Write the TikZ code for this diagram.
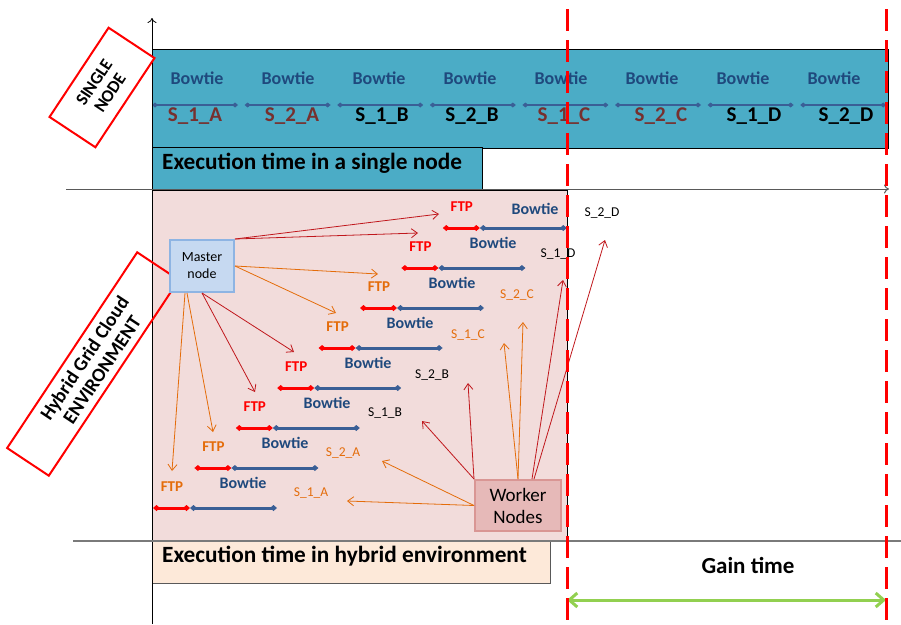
\documentclass[tikz,border=0pt]{standalone}
\usepackage{fontspec}
\setmainfont{Carlito}
\usetikzlibrary{arrows.meta,calc}
\definecolor{aqua}{HTML}{4BACC6}
\definecolor{tlblue}{HTML}{3A5F96}
\definecolor{bowblue}{HTML}{1F497D}
\definecolor{sred}{HTML}{77302E}
\definecolor{pinkbg}{HTML}{F2DCDB}
\definecolor{peach}{HTML}{FDE9D9}
\definecolor{mblue}{HTML}{C6D9F1}
\definecolor{mborder}{HTML}{8EB4E3}
\definecolor{wfill}{HTML}{E6B9B8}
\definecolor{wborder}{HTML}{D99694}
\definecolor{orng}{HTML}{E46C0A}
\definecolor{dred}{HTML}{C0171C}
\definecolor{gainG}{HTML}{92D050}
\definecolor{axgrey}{HTML}{595959}
\begin{document}
\begin{tikzpicture}[x=1pt,y=-1pt,
  box/.style={draw, anchor=north west, inner sep=0pt, line width=0.8pt},
  topbow/.style={font=\bfseries\fontsize{18}{20}\selectfont, text=bowblue, inner sep=0pt},
  tops/.style={font=\bfseries\fontsize{21}{23}\selectfont, inner sep=0pt},
  innbow/.style={font=\bfseries\fontsize{16}{18}\selectfont, text=bowblue, inner sep=0pt},
  ftp/.style={font=\bfseries\fontsize{15}{17}\selectfont, inner sep=0pt},
  sl/.style={font=\fontsize{13.5}{15}\selectfont, inner sep=0pt},
  big/.style={font=\bfseries\fontsize{23.3}{25}\selectfont, inner sep=0pt},
  tl/.style={tlblue, line width=2pt, {Diamond[length=6pt,width=5pt]}-{Diamond[length=6pt,width=5pt]}},
  redseg/.style={red, line width=3pt, {Diamond[length=7pt,width=6pt]}-{Diamond[length=7pt,width=6pt]}},
  blueseg/.style={tlblue, line width=3pt, {Diamond[length=7pt,width=6pt]}-{Diamond[length=7pt,width=6pt]}},
  arr/.style={line width=0.8pt, -{Straight Barb[length=6pt,width=9pt]}},
  rdash/.style={red, line width=3pt, dash pattern=on 22pt off 9pt},
  redbox/.style={draw=red, line width=2pt, align=center, inner sep=0pt}
]
\useasboundingbox (0,0) rectangle (901,624);

% single node area
\node[box, fill=aqua, minimum width=736pt, minimum height=99pt] (sbox) at (152,49) {};
\node[box, fill=aqua, minimum width=330pt, minimum height=42pt] (sexec) at (152,147) {};
\node[big, anchor=west] (sexect) at (162,163) {Execution time in a single node};

\foreach \i in {0,...,7} {
  \pgfmathsetmacro\xs{152+92.6*\i}
  \draw[tl] (\xs,105) -- (\xs+86,105);
  \node[topbow] at (197+91*\i,78) {Bowtie};
}
\node[tops, text=sred] (t1) at (195,116) {S\_1\_A};
\node[tops, text=sred] (t2) at (292,116) {S\_2\_A};
\node[tops] (t3) at (382,116) {S\_1\_B};
\node[tops] (t4) at (472,116) {S\_2\_B};
\node[tops, text=sred] (t5) at (564,116) {S\_1\_C};
\node[tops, text=sred] (t6) at (661,116) {S\_2\_C};
\node[tops] (t7) at (754,116) {S\_1\_D};
\node[tops] (t8) at (846,116) {S\_2\_D};

% hybrid area
\node[box, fill=pinkbg, minimum width=415pt, minimum height=351pt] (hreg) at (152,190) {};
\node[box, draw=axgrey, fill=peach, minimum width=398pt, minimum height=42pt] (hexec) at (152,541) {};
\node[big, anchor=west] (hexect) at (162,556) {Execution time in hybrid environment};

% axes
\coordinate (vaxb) at (152,624); \coordinate (vaxt) at (152,18);
\coordinate (haxl) at (66,189);  \coordinate (haxr) at (889,189);
\coordinate (baxl) at (73,541);  \coordinate (baxr) at (901,541);
\draw[line width=0.8pt, -{To[length=5pt,width=9pt]}] (vaxb) -- (vaxt);
\draw[axgrey, line width=1pt, -{To[length=5pt,width=9pt]}] (haxl) -- (haxr);
\draw[axgrey!80, line width=1.5pt] (baxl) -- (baxr);

% labels on rotated boxes
\node[redbox, fill=white, rotate=56.5, minimum width=107pt, minimum height=55pt,
      font=\bfseries\fontsize{17.5}{19}\selectfont] (snode) at (102,87.5) {SINGLE\\NODE};
\node[redbox, rotate=56.4, minimum width=235pt, minimum height=50pt,
      font=\bfseries\fontsize{19.5}{21}\selectfont] (hnode) at (93,364) {Hybrid Grid Cloud\\ENVIRONMENT};

% rows
\foreach \i/\fc in {0/orng,1/orng,2/red,3/red,4/orng,5/orng,6/red,7/red} {
  \pgfmathsetmacro\yy{508-40*\i}
  \pgfmathsetmacro\xs{153+41.4*\i}
  \pgfmathsetmacro\xm{\xs+37}
  \pgfmathsetmacro\xe{\xm+87}
  \draw[redseg] (\xs,\yy) -- (\xm,\yy);
  \draw[blueseg] (\xm,\yy) -- (\xe,\yy);
  \node[ftp, text=\fc] at (\xs+19,\yy-21) {FTP};
}
\foreach \px/\py in {243/483,285/443,327/403,368/363,410/323,452/283,493/243,535/209}
  \node[innbow] at (\px,\py) {Bowtie};

\node[sl, text=orng] (s1a) at (311,493) {S\_1\_A};
\node[sl, text=orng] (s2a) at (343,453) {S\_2\_A};
\node[sl] (s1b) at (385,413) {S\_1\_B};
\node[sl] (s2b) at (432,375) {S\_2\_B};
\node[sl, text=orng] (s1c) at (468,335) {S\_1\_C};
\node[sl, text=orng] (s2c) at (517,295) {S\_2\_C};
\node[sl] (s1d) at (558,254) {S\_1\_D};
\node[sl] (s2d) at (602,213) {S\_2\_D};

% master & workers
\node[draw=mborder, line width=2pt, fill=mblue, minimum width=64pt, minimum height=52pt,
      align=center, inner sep=0pt, font=\fontsize{14}{17}\selectfont] (master) at (202,266) {Master\\node};
\node[draw=wborder, line width=2pt, fill=wfill, minimum width=86pt, minimum height=51pt,
      align=center, inner sep=0pt, font=\fontsize{19}{22}\selectfont] (worker) at (518,505.5) {Worker\\Nodes};

\coordinate (m1) at (439,214); \coordinate (m2) at (418,233);
\coordinate (m3) at (378,274); \coordinate (m4) at (336,313);
\coordinate (m5) at (294,352); \coordinate (m6) at (255,392);
\coordinate (m7) at (213,432); \coordinate (m8) at (172,471);
\draw[arr, dred] (master.north east) -- (m1);
\draw[arr, dred] (master.north east) -- (m2);
\draw[arr, orng] (master.east) -- (m3);
\draw[arr, orng] (master.east) -- (m4);
\draw[arr, dred] (master.south) -- (m5);
\draw[arr, dred] (master.south) -- (m6);
\draw[arr, orng] ($(master.south west)+(18,0)$) -- (m7);
\draw[arr, orng] ($(master.south west)+(16,0)$) -- (m8);

\coordinate (w1) at (347,501); \coordinate (w2) at (382,461);
\coordinate (w3) at (422,421); \coordinate (w4) at (468,383);
\coordinate (w5) at (504,343); \coordinate (w6) at (523,322);
\coordinate (w7) at (563,280); \coordinate (w8) at (605,240);
\draw[arr, orng] (worker.west) -- (w1);
\draw[arr, orng] (worker.west) -- (w2);
\draw[arr, dred] (worker.north west) -- (w3);
\draw[arr, dred] (worker.north west) -- (w4);
\draw[arr, orng] (worker.north) -- (w5);
\draw[arr, orng] (worker.north) -- (w6);
\draw[arr, dred] ($(worker.north)+(14,0)$) -- (w7);
\draw[arr, dred] ($(worker.north)+(16,0)$) -- (w8);

% gain time
\node[big, font=\bfseries\fontsize{23}{25}\selectfont] (gain) at (748,565) {Gain time};
\coordinate (ga) at (567,600); \coordinate (gb) at (886,600);
\draw[gainG, line width=3pt, {Straight Barb[length=8pt,width=14pt]}-{Straight Barb[length=8pt,width=14pt]}] (ga) -- (gb);

% dashed markers
\coordinate (d1t) at (567,9); \coordinate (d1b) at (567,624);
\coordinate (d2t) at (886,9); \coordinate (d2b) at (886,624);
\draw[rdash] (d1t) -- (d1b);
\draw[rdash] (d2t) -- (d2b);
\end{tikzpicture}
\end{document}
